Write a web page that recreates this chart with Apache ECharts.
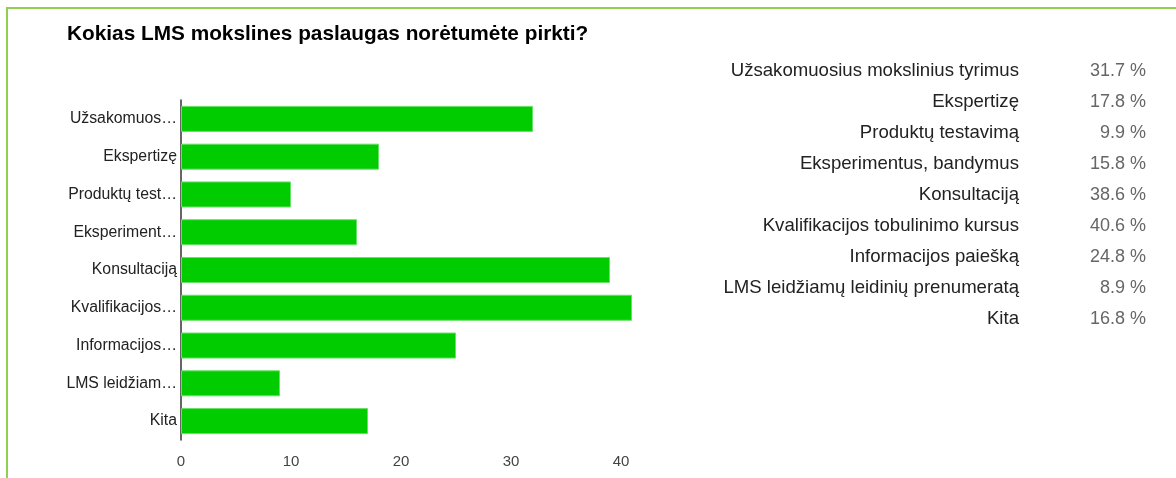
<!DOCTYPE html>
<html>
<head>
<meta charset="utf-8">
<script src="https://cdn.jsdelivr.net/npm/echarts@6/dist/echarts.min.js"></script>
<style>
  html, body { margin: 0; padding: 0; background: #fff; }
  #chart { width: 1176px; height: 478px; }
</style>
</head>
<body>
<div id="chart"></div>
<script>
const title = "Kokias LMS mokslines paslaugas norėtumėte pirkti?";

const categories = [
  "Užsakomuosius mokslinius tyrimus",
  "Ekspertizę",
  "Produktų testavimą",
  "Eksperimentus, bandymus",
  "Konsultaciją",
  "Kvalifikacijos tobulinimo kursus",
  "Informacijos paiešką",
  "LMS leidžiamų leidinių prenumeratą",
  "Kita",
];

// shortened names as shown next to the bars
const tickLabels = [
  "Užsakomuos…",
  "Ekspertizę",
  "Produktų test…",
  "Eksperiment…",
  "Konsultaciją",
  "Kvalifikacijos…",
  "Informacijos…",
  "LMS leidžiam…",
  "Kita",
];

const counts = [32, 18, 10, 16, 39, 41, 25, 9, 17];

const respondents = 101;

const font = "Arial, 'Liberation Sans', sans-serif";

const percentText = (value) => `${((value / respondents) * 100).toFixed(1)} %`;

// right hand summary table
const tableRows = [];
categories.forEach((name, i) => {
  const y = 71 + i * 31;
  tableRows.push({
    type: "text",
    x: 1019,
    y,
    style: {
      text: name,
      font: `18.6px ${font}`,
      fill: "#222",
      align: "right",
      verticalAlign: "middle",
    },
  });
  tableRows.push({
    type: "text",
    x: 1146,
    y,
    style: {
      text: percentText(counts[i]),
      font: `18px ${font}`,
      fill: "#666",
      align: "right",
      verticalAlign: "middle",
    },
  });
});

const chart = echarts.init(document.getElementById("chart"));

chart.setOption({
  backgroundColor: "#fff",
  animation: false,
  title: {
    text: title,
    left: 62,
    top: 19,
    textStyle: {
      fontFamily: font,
      fontSize: 20.8,
      fontWeight: "bold",
      color: "#000",
    },
  },
  grid: { left: 181, top: 100, width: 495, height: 340 },
  xAxis: {
    type: "value",
    min: 0,
    max: 45,
    interval: 10,
    axisLine: { show: false },
    axisTick: { show: false },
    splitLine: { show: false },
    axisLabel: {
      showMaxLabel: false,
      margin: 14,
      fontFamily: font,
      fontSize: 15,
      color: "#444",
    },
  },
  yAxis: {
    type: "category",
    inverse: true,
    data: categories,
    axisLine: { show: true, lineStyle: { color: "#333", width: 1.5 } },
    axisTick: { show: false },
    axisLabel: {
      margin: 4,
      fontFamily: font,
      fontSize: 15.8,
      color: "#222",
      formatter: (value, index) => tickLabels[index],
    },
  },
  series: [
    {
      type: "bar",
      data: counts,
      barWidth: 26,
      itemStyle: {
        color: "#00cc00",
        borderColor: "#66e066",
        borderWidth: 1,
      },
    },
  ],
  graphic: [
    {
      type: "polyline",
      shape: { points: [[7, 480], [7, 8], [1180, 8]] },
      style: { stroke: "#8fd14f", lineWidth: 2, fill: null },
    },
    ...tableRows,
  ],
});
</script>
</body>
</html>
